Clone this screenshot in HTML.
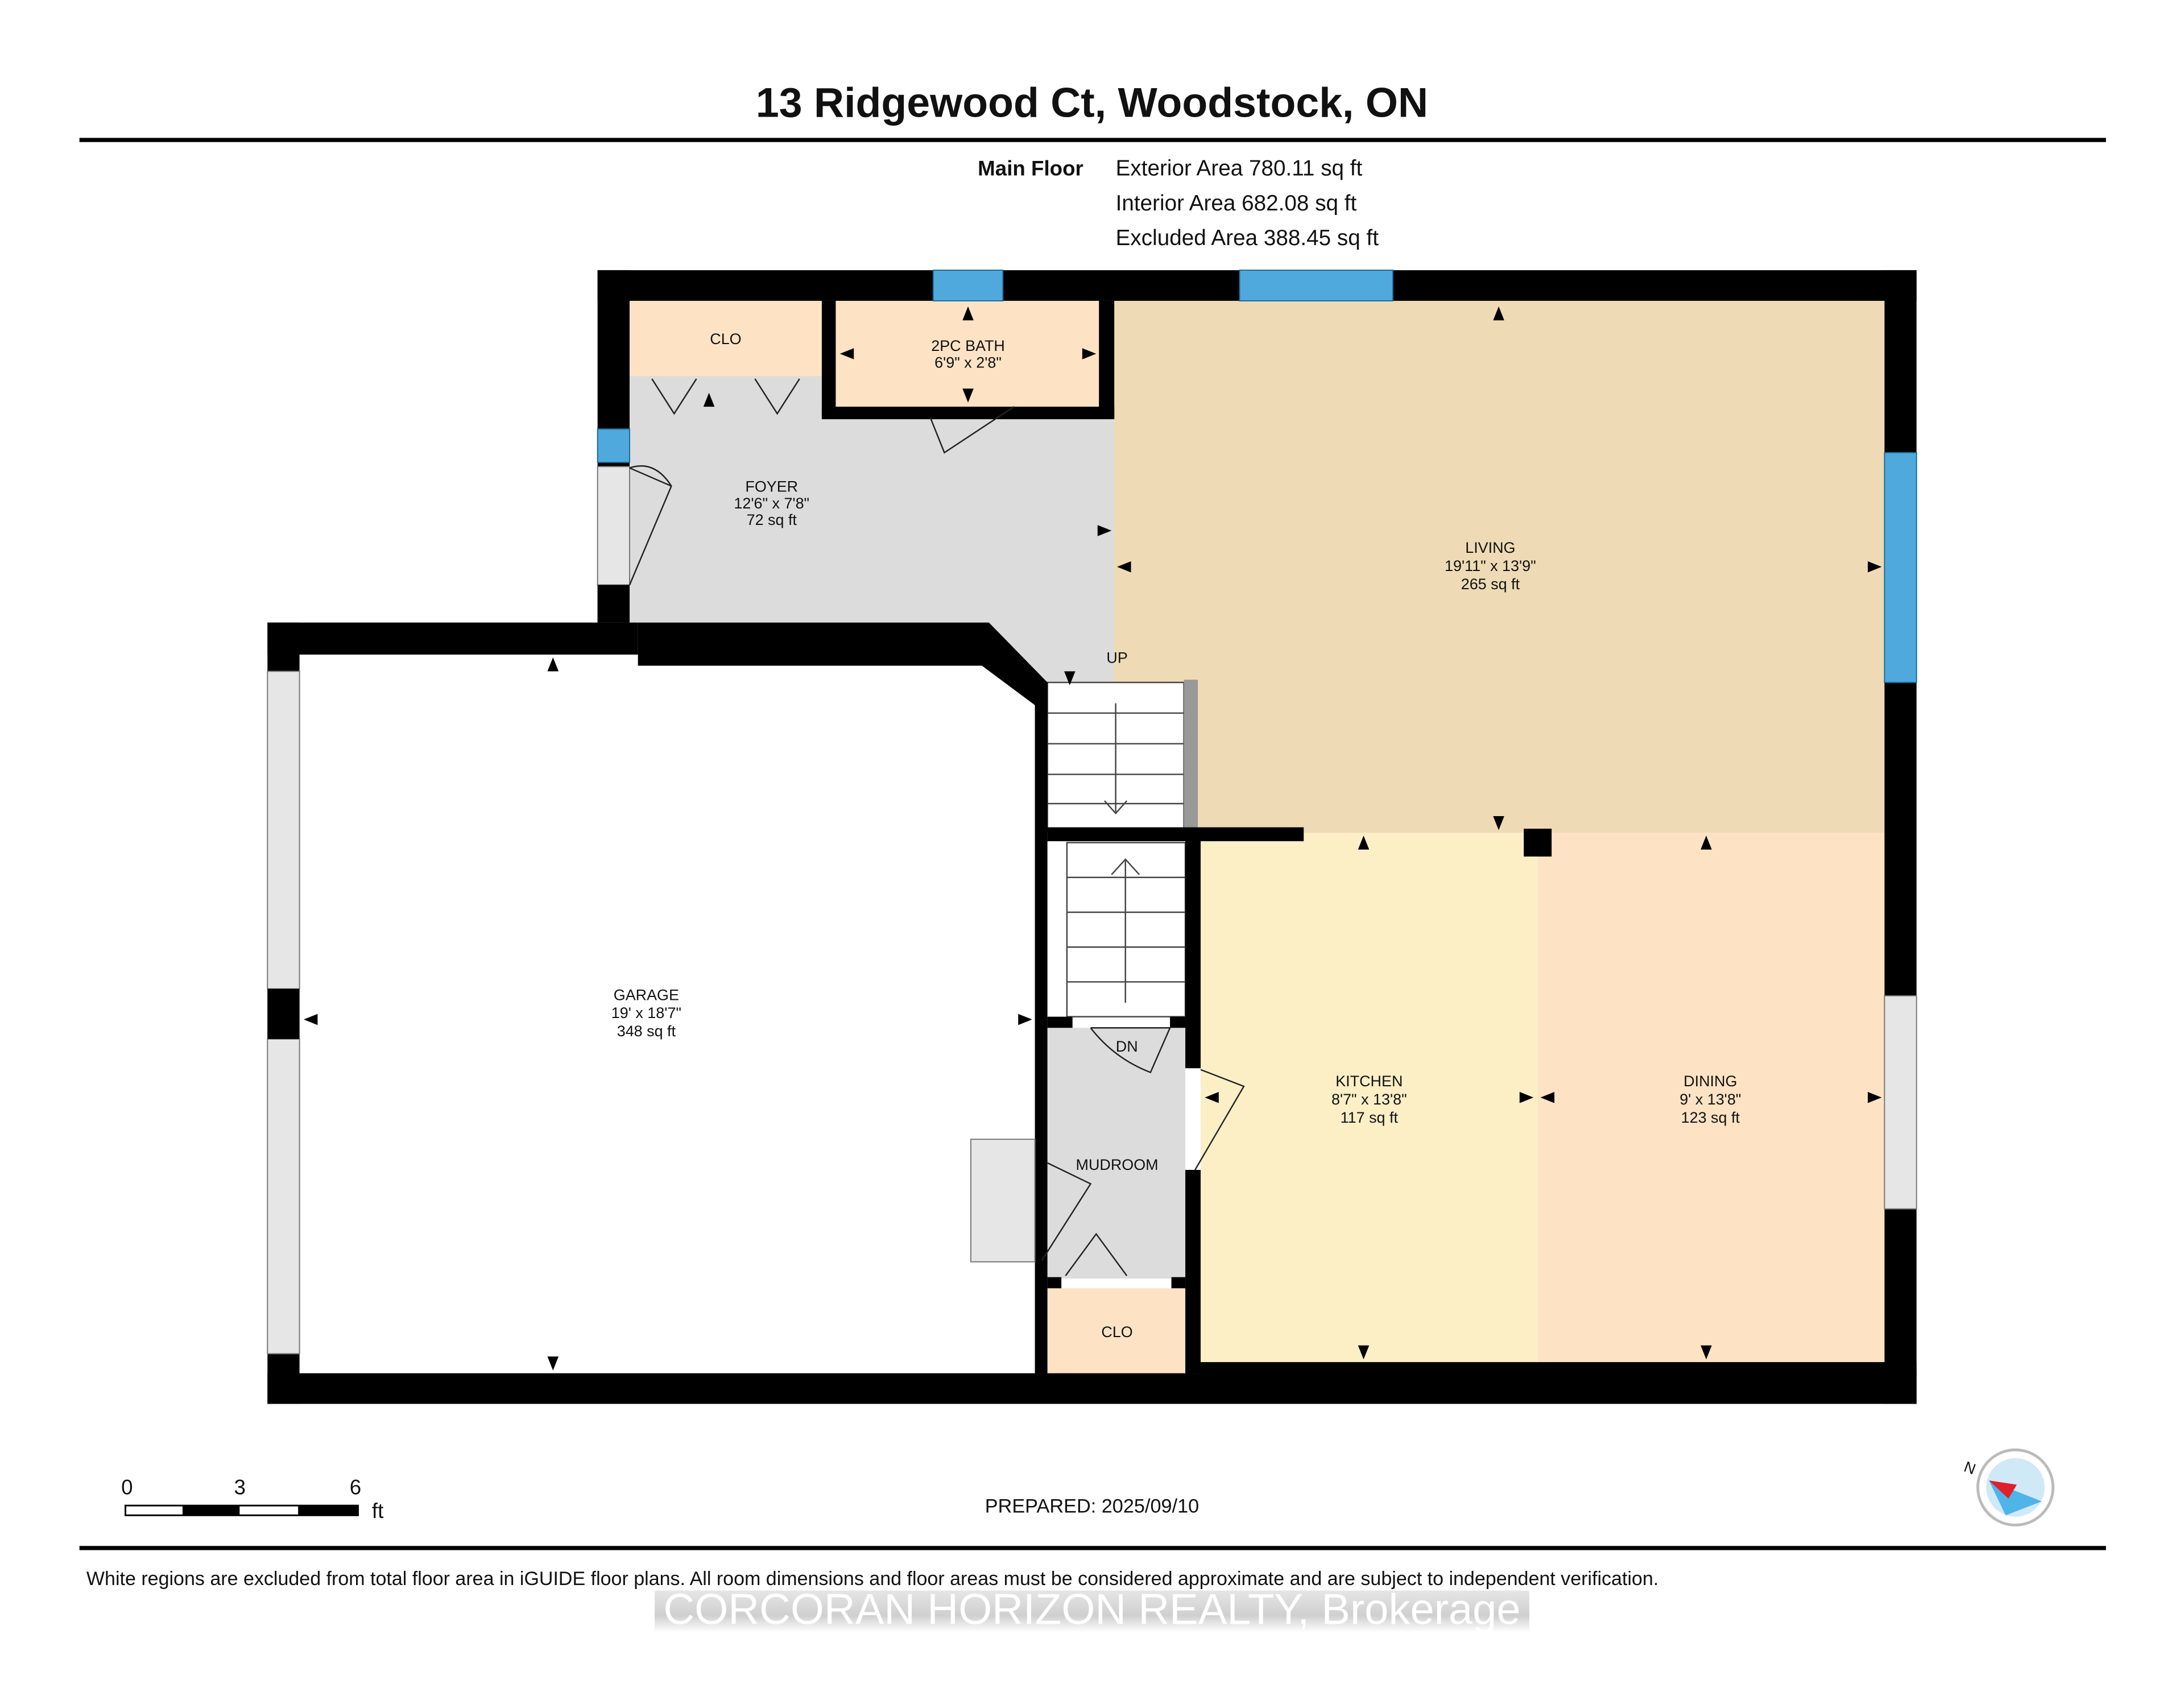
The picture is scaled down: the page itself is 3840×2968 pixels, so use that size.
<!DOCTYPE html>
<html><head><meta charset="utf-8"><style>
html,body{margin:0;padding:0;background:#fff}
svg{display:block}
text{font-family:"Liberation Sans",Arial,sans-serif;fill:#111}
</style></head><body>
<svg width="3840" height="2968" viewBox="0 0 1568 1212" xmlns="http://www.w3.org/2000/svg">
<defs>
<linearGradient id="wm" x1="0" y1="0" x2="0" y2="1"><stop offset="0" stop-color="#e6e6e6"/><stop offset="0.6" stop-color="#cfcfcf"/><stop offset="1" stop-color="#fff"/></linearGradient>
</defs>
<rect width="1568" height="1212" fill="#fff"/>
<text x="784" y="84" font-size="30" font-weight="bold" text-anchor="middle">13 Ridgewood Ct, Woodstock, ON</text>
<rect x="57" y="99" width="1455" height="3" fill="#000"/>
<text x="702" y="126" font-size="15" font-weight="bold">Main Floor</text>
<text x="801" y="126" font-size="15.8">Exterior Area 780.11 sq ft</text>
<text x="801" y="151" font-size="15.8">Interior Area 682.08 sq ft</text>
<text x="801" y="176" font-size="15.8">Excluded Area 388.45 sq ft</text>

<polygon points="452,216 800,216 800,490 752,490 710,447 452,447" fill="#dcdcdc"/>
<rect x="452" y="216" width="138" height="54" fill="#fde3c4"/>
<rect x="600" y="216" width="189" height="76" fill="#fde3c4"/>
<rect x="800" y="216" width="553" height="382" fill="#eedbb5"/>
<rect x="862" y="598" width="242" height="380" fill="#fcefc6"/>
<rect x="1104" y="598" width="249" height="380" fill="#fde3c4"/>
<rect x="752" y="738" width="99" height="180" fill="#dcdcdc"/>
<rect x="752" y="925" width="99" height="61" fill="#fde3c4"/>

<g stroke="#444" stroke-width="1" fill="none">
<rect x="752" y="490" width="98" height="107" fill="#fff"/>
<line x1="752" y1="512" x2="850" y2="512"/><line x1="752" y1="534" x2="850" y2="534"/><line x1="752" y1="556" x2="850" y2="556"/><line x1="752" y1="577" x2="850" y2="577"/>
<line x1="801" y1="505" x2="801" y2="583"/><polyline points="793,575 801,584 809,575"/>
<rect x="766" y="605" width="85" height="125" fill="#fff"/>
<line x1="766" y1="630" x2="851" y2="630"/><line x1="766" y1="655" x2="851" y2="655"/><line x1="766" y1="680" x2="851" y2="680"/><line x1="766" y1="705" x2="851" y2="705"/>
<line x1="808" y1="720" x2="808" y2="618"/><polyline points="798,628 808,617 818,628"/>
</g>
<rect x="850" y="488" width="10" height="108" fill="#999"/>

<g fill="#000">
<rect x="429" y="194" width="947" height="22"/>
<rect x="1353" y="194" width="23" height="814"/>
<rect x="192" y="986" width="1184" height="22"/>
<rect x="862" y="978" width="514" height="10"/>
<rect x="192" y="447" width="23" height="561"/>
<rect x="192" y="447" width="266" height="23"/>
<polygon points="458,447 710,447 752,490 752,513 705,478 458,478"/>
<rect x="429" y="194" width="23" height="253"/>
<rect x="590" y="216" width="10" height="84"/>
<rect x="590" y="292" width="210" height="9"/>
<rect x="789" y="216" width="11" height="84"/>
<rect x="743" y="490" width="9" height="496"/>
<rect x="851" y="597" width="11" height="170"/>
<rect x="851" y="840" width="11" height="146"/>
<rect x="752" y="594" width="184" height="10"/>
<rect x="1094" y="595" width="20" height="20"/>
<rect x="752" y="730" width="18" height="8"/>
<rect x="840" y="730" width="11" height="8"/>
<rect x="752" y="917" width="10" height="8"/><rect x="841" y="917" width="10" height="8"/>
</g>
<g fill="#4fa9dd" stroke="#1d6a9a" stroke-width="0.8">
<rect x="670" y="194" width="50" height="22"/><rect x="890" y="194" width="110" height="22"/>
<rect x="1353" y="325" width="23" height="165"/><rect x="429" y="308" width="23" height="24"/>
</g>
<g fill="#e6e6e6" stroke="#777" stroke-width="0.8">
<rect x="192" y="482" width="23" height="228"/><rect x="192" y="746" width="23" height="226"/>
<rect x="1353" y="715" width="23" height="153"/><rect x="429" y="335" width="23" height="85"/>
<rect x="697" y="818" width="46" height="88"/>
</g>
<rect x="192" y="710" width="23" height="36" fill="#000"/>
<rect x="429" y="420" width="23" height="27" fill="#000"/>

<g stroke="#222" stroke-width="1" fill="none">
<path d="M452,336 L482,349 M452,420 L482,349 Q470,330 452,336"/>
<path d="M668,300 L678,325 L728,292"/>
<path d="M468,272 L484,297 L500,272 M542,272 L558,297 L574,272"/>
<path d="M783,738 L840,738 L826,770 Q800,760 783,738"/>
<path d="M862,768 L893,780 L858,840"/>
<path d="M752,835 L783,850 L748,905"/>
<path d="M765,916 L787,886 L809,916"/>
</g>

<g font-size="11" text-anchor="middle">
<text x="521" y="247">CLO</text>
<text x="695" y="252">2PC BATH</text><text x="695" y="264">6'9" x 2'8"</text>
<text x="554" y="353">FOYER</text><text x="554" y="365">12'6" x 7'8"</text><text x="554" y="377">72 sq ft</text>
<text x="1070" y="397">LIVING</text><text x="1070" y="410">19'11" x 13'9"</text><text x="1070" y="423">265 sq ft</text>
<text x="802" y="476">UP</text>
<text x="464" y="718">GARAGE</text><text x="464" y="731">19' x 18'7"</text><text x="464" y="744">348 sq ft</text>
<text x="809" y="755">DN</text>
<text x="983" y="780">KITCHEN</text><text x="983" y="793">8'7" x 13'8"</text><text x="983" y="806">117 sq ft</text>
<text x="1228" y="780">DINING</text><text x="1228" y="793">9' x 13'8"</text><text x="1228" y="806">123 sq ft</text>
<text x="802" y="840">MUDROOM</text>
<text x="802" y="960">CLO</text>
</g>
<g fill="#000">
<polygon points="1076,220 1072,230 1080,230"/><polygon points="1076,596 1072,586 1080,586"/>
<polygon points="802,407 812,403 812,411"/><polygon points="1351,407 1341,403 1341,411"/>
<polygon points="397,472 393,482 401,482"/><polygon points="397,984 393,974 401,974"/>
<polygon points="218,732 228,728 228,736"/><polygon points="741,732 731,728 731,736"/>
<polygon points="979,600 975,610 983,610"/><polygon points="979,976 975,966 983,966"/>
<polygon points="1225,600 1221,610 1229,610"/><polygon points="1225,976 1221,966 1229,966"/>
<polygon points="865,788 875,784 875,792"/><polygon points="1101,788 1091,784 1091,792"/>
<polygon points="1106,788 1116,784 1116,792"/><polygon points="1351,788 1341,784 1341,792"/>
<polygon points="798,381 788,377 788,385"/><polygon points="768,492 764,482 772,482"/>
<polygon points="695,220 691,230 699,230"/><polygon points="695,289 691,279 699,279"/>
<polygon points="603,254 613,250 613,258"/><polygon points="787,254 777,250 777,258"/>
<polygon points="509,282 505,292 513,292"/>
</g>

<g font-size="15">
<text x="87" y="1073">0</text><text x="168" y="1073">3</text><text x="251" y="1073">6</text><text x="267" y="1090">ft</text>
</g>
<rect x="90" y="1081" width="167" height="7" fill="#fff" stroke="#000" stroke-width="1.2"/>
<rect x="131" y="1081" width="41" height="7" fill="#000"/><rect x="214" y="1081" width="43" height="7" fill="#000"/>
<text x="784" y="1086" font-size="14" text-anchor="middle">PREPARED: 2025/09/10</text>

<circle cx="1447" cy="1068" r="27" fill="#fff" stroke="#bbb" stroke-width="2"/>
<circle cx="1447" cy="1068" r="21" fill="#cfe9f7"/>
<polygon points="1428,1063 1466,1078 1440,1088" fill="#4fb4e8"/>
<polygon points="1428,1063 1448,1066 1442,1076" fill="#e0202a"/>
<text x="1410" y="1058" font-size="11" transform="rotate(20 1415 1055)">N</text>

<rect x="57" y="1110" width="1455" height="3" fill="#000"/>
<text x="62" y="1138" font-size="13.9">White regions are excluded from total floor area in iGUIDE floor plans. All room dimensions and floor areas must be considered approximate and are subject to independent verification.</text>
<rect x="470" y="1142" width="628" height="30" fill="url(#wm)"/>
<text x="784" y="1166" font-size="31" text-anchor="middle" style="fill:#fff">CORCORAN HORIZON REALTY, Brokerage</text>
</svg>
</body></html>
